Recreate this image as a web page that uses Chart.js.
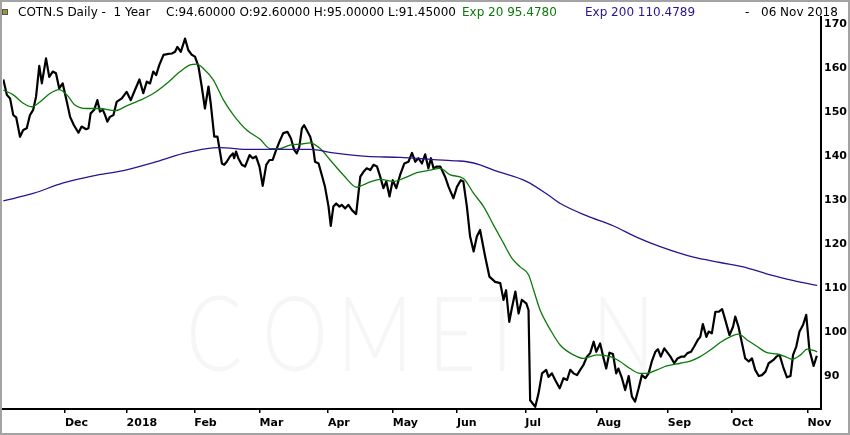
<!DOCTYPE html>
<html>
<head>
<meta charset="utf-8">
<script src="https://cdn.jsdelivr.net/npm/chart.js@4.4.1/dist/chart.umd.min.js"></script>
<style>
  html, body { margin: 0; padding: 0; background: #fff; }
  #wrap { position: relative; width: 850px; height: 435px; overflow: hidden; background: #fff; }
  #wrap canvas { position: absolute; left: 0; top: 0; }
  .hdr { position: absolute; top: 5px; font-family: 'DejaVu Sans', sans-serif; font-size: 12px; line-height: 14px; white-space: pre; color: #000; }
  .wm { position: absolute; top: 268px; font-family: Lato, 'Open Sans', sans-serif; font-weight: 300; font-size: 104px; color: #f6f6f6; transform: scaleX(0.8); transform-origin: left top; }
  #icon { position: absolute; left: 2px; top: 9px; width: 4px; height: 4px; background: #9a9a30; border: 1px solid #555; }
</style>
</head>
<body>
<div id="wrap">
  <div class="wm" style="left:186px">C</div>
  <div class="wm" style="left:262px">O</div>
  <div class="wm" style="left:337px">M</div>
  <div class="wm" style="left:428px">E</div>
  <div class="wm" style="left:478px">T</div>
  <div class="wm" style="left:592px">N</div>
  <canvas id="priceChart" width="850" height="435"></canvas>
  <div id="icon"></div>
  <div class="hdr" style="left:18px">COTN.S Daily -  1 Year</div>
  <div class="hdr" style="left:166px">C:94.60000 O:92.60000 H:95.00000 L:91.45000</div>
  <div class="hdr" style="left:462px;color:#0b7a0b">Exp 20 95.4780</div>
  <div class="hdr" style="left:585px;color:#2c138f">Exp 200 110.4789</div>
  <div class="hdr" style="left:745px">-</div>
  <div class="hdr" style="left:761px">06 Nov 2018</div>
</div>
<script>
// sessions (trading-day index) and closing prices
const closeSess = [0.1, 1.2, 2.2, 3.2, 4.1, 5.3, 6.3, 7.4, 8.4, 9.4, 10.3, 11.3, 12.1, 13.4, 14.4, 15.5, 16.5, 17.5, 18.6, 19.9,
  20.9, 22.1, 23.5, 24.5, 25.9, 26.6, 27.3, 28.4, 29.4, 30.2, 31.1, 31.8, 32.5, 33.3, 34.4, 35.4, 37.0, 38.5, 39.8, 41.1,
  42.5, 43.7, 44.8, 45.8, 46.8, 47.7, 48.7, 50.0, 51.5, 52.6, 53.6, 54.3, 55.4, 56.7, 57.7, 58.8, 59.8, 60.9, 61.9, 62.9,
  64.0, 64.7, 65.8, 66.8, 68.2, 68.9, 69.7, 70.7, 71.6, 72.0, 72.6, 73.3, 74.4, 75.4, 76.8, 77.8, 78.8, 79.9, 80.9, 82.0,
  83.0, 84.0, 85.1, 86.3, 87.3, 88.6, 89.7, 90.7, 91.5, 92.3, 93.1, 93.8, 94.6, 95.7, 96.7, 97.2, 98.3, 99.3, 100.3, 101.4,
  102.1, 102.9, 103.8, 104.8, 105.5, 106.6, 107.6, 108.7, 110.0, 111.3, 112.3, 113.3, 114.4, 115.4, 116.5, 117.5, 118.5, 119.4, 120.4, 121.4,
  122.5, 123.7, 125.0, 126.3, 127.4, 128.4, 129.4, 130.5, 131.5, 132.5, 133.3, 134.1, 135.1, 136.2, 137.7, 138.8, 140.3, 141.4, 142.6, 143.4,
  144.5, 145.5, 146.6, 147.6, 148.6, 150.2, 151.5, 153.3, 154.9, 155.9, 156.7, 157.7, 158.5, 159.6, 160.6, 161.6, 163.0, 163.7, 164.2, 165.8,
  166.8, 167.9, 169.2, 169.9, 171.0, 172.0, 173.4, 174.6, 175.7, 176.7, 177.7, 178.8, 179.8, 180.8, 181.9, 182.9, 184.0, 184.8, 186.0, 187.1,
  187.9, 188.9, 190.0, 191.0, 191.7, 192.8, 193.8, 194.9, 195.9, 196.9, 198.0, 199.0, 200.1, 201.1, 202.1, 203.2, 204.0, 204.9, 206.0, 206.8,
  207.9, 209.1, 210.1, 211.2, 212.2, 213.2, 214.3, 215.3, 216.4, 217.2, 218.0, 219.1, 219.8, 220.8, 221.9, 222.9, 224.0, 225.0, 226.3, 227.4,
  228.1, 229.1, 230.2, 231.2, 232.3, 233.3, 234.3, 235.4, 236.4, 237.5, 238.5, 239.9, 240.9, 241.9, 243.0, 244.2, 245.3, 246.1, 247.1, 248.1,
  249.2, 250.2, 251.2, 252.5, 253.5];
const closeVals = [157.4, 153.9, 153.1, 149.3, 148.8, 144.4, 145.9, 146.3, 149.3, 150.5, 153.5, 160.5, 156.5, 162.2, 158.0, 159.2, 158.8, 155.4, 156.5, 152.3,
  148.9, 147.0, 145.3, 146.7, 146.1, 146.3, 149.7, 150.5, 152.7, 150.1, 150.5, 149.3, 147.8, 148.9, 149.3, 152.3, 153.1, 154.6, 152.7, 155.0,
  157.4, 154.3, 156.9, 156.5, 159.2, 158.4, 160.7, 163.0, 163.2, 163.3, 163.7, 164.8, 163.7, 166.7, 164.1, 163.0, 162.6, 160.3, 155.8, 150.8,
  155.8, 152.0, 144.4, 144.4, 138.3, 138.0, 138.7, 139.9, 140.6, 139.5, 141.0, 139.5, 138.0, 137.6, 140.2, 139.5, 139.9, 137.6, 133.2, 138.0,
  139.1, 139.1, 141.4, 143.6, 145.2, 145.5, 144.0, 141.4, 140.6, 142.1, 146.3, 147.0, 145.9, 144.4, 141.4, 138.7, 138.3, 135.7, 133.0, 128.5,
  124.1, 128.5, 129.2, 128.5, 128.9, 128.1, 128.9, 127.7, 126.8, 135.3, 136.4, 137.2, 136.8, 138.0, 137.6, 135.3, 132.7, 134.2, 130.8, 134.5,
  132.7, 135.7, 138.3, 138.7, 140.7, 138.7, 139.5, 138.3, 140.4, 137.2, 139.5, 137.2, 137.6, 137.6, 135.3, 133.0, 130.4, 133.0, 134.5, 134.2,
  128.5, 121.7, 118.3, 121.7, 123.2, 117.1, 112.6, 111.4, 111.1, 107.3, 109.5, 102.3, 105.4, 109.2, 104.2, 107.3, 106.5, 105.0, 84.5, 83.0,
  86.0, 90.6, 91.4, 89.8, 90.6, 89.1, 87.2, 89.5, 89.1, 91.4, 90.6, 90.2, 91.4, 92.5, 94.4, 95.2, 97.8, 95.5, 97.4, 94.0,
  91.7, 95.3, 95.0, 90.6, 91.7, 89.5, 86.8, 90.0, 85.3, 84.2, 87.2, 90.2, 89.5, 90.6, 93.3, 95.5, 96.1, 94.4, 96.3, 95.5,
  94.4, 92.9, 94.0, 94.4, 94.4, 95.2, 95.5, 96.7, 98.2, 98.9, 101.8, 98.9, 100.1, 99.7, 104.6, 104.6, 105.2, 102.7, 99.3, 101.2,
  103.5, 101.2, 97.4, 94.0, 93.3, 94.0, 91.4, 90.0, 90.2, 91.0, 92.9, 93.6, 94.4, 94.8, 92.1, 89.7, 90.0, 94.8, 96.7, 100.1,
  101.6, 103.9, 95.9, 92.3, 94.6];

// 20-period exponential average
const ema20Sess = [0.1, 3.2, 6.3, 8.9, 11.5, 14.6, 17.5, 19.9, 22.4, 26.1, 30.2, 34.9, 38.5, 42.7, 46.8, 51.0, 55.2, 58.3, 60.4, 62.4,
  65.5, 67.4, 68.7, 71.8, 75.9, 80.1, 83.2, 86.3, 89.4, 92.6, 95.7, 98.8, 101.9, 106.0, 110.2, 113.3, 117.5, 121.6, 124.7, 128.9,
  133.1, 136.2, 139.3, 143.4, 146.6, 149.7, 152.8, 155.9, 158.5, 161.1, 163.7, 165.3, 167.3, 170.5, 173.6, 177.7, 180.8, 185.0, 189.2, 192.2,
  195.3, 198.4, 200.6, 203.7, 206.8, 211.0, 214.1, 217.2, 220.3, 223.4, 226.5, 229.1, 231.8, 234.9, 238.0, 241.1, 243.7, 245.8, 248.4, 250.5,
  252.5, 253.6];
const ema20Vals = [155.0, 153.9, 152.0, 151.2, 152.3, 154.2, 155.1, 153.9, 151.6, 150.8, 150.8, 150.3, 151.4, 152.7, 154.2, 156.5, 159.2, 160.7, 160.9, 159.9,
  157.3, 154.6, 152.7, 149.3, 145.9, 143.8, 141.7, 141.7, 142.5, 142.7, 143.0, 141.7, 139.1, 135.7, 132.9, 133.8, 134.7, 134.2, 134.9, 136.2,
  136.8, 137.2, 135.7, 134.9, 131.5, 128.5, 124.3, 120.2, 116.8, 114.8, 113.0, 109.5, 105.0, 100.5, 97.0, 94.8, 94.0, 94.8, 94.4, 93.3,
  91.7, 90.6, 90.6, 91.4, 92.3, 92.9, 93.4, 94.4, 95.9, 97.6, 98.9, 99.5, 98.2, 96.7, 95.3, 95.0, 94.4, 93.8, 94.8, 96.1,
  95.8, 95.5];

// 200-period exponential average
const ema200Sess = [0.1, 9.4, 18.8, 28.1, 37.5, 46.8, 56.2, 63.5, 67.4, 77.0, 95.7, 102.9, 113.3, 123.7, 134.1, 141.4, 144.5, 148.6, 152.8, 163.2,
  170.5, 173.6, 181.9, 190.2, 197.5, 204.7, 215.1, 223.4, 231.7, 239.0, 246.3, 253.6];
const ema200Vals = [129.8, 131.5, 133.9, 135.5, 136.7, 138.5, 140.6, 141.7, 141.9, 141.5, 141.5, 140.7, 139.9, 139.7, 139.2, 138.9, 138.7, 138.0, 136.8, 134.2,
  130.8, 129.2, 126.4, 124.1, 121.5, 119.4, 117.0, 115.8, 114.6, 113.0, 111.7, 110.6];

// axis ticks
const monthTickSess = [19.3, 38.5, 59.6, 79.9, 101.2, 121.4, 141.4, 162.7, 185.0, 207.1, 227.1, 250.6];
const monthLabels = ['Dec', '2018', 'Feb', 'Mar', 'Apr', 'May', 'Jun', 'Jul', 'Aug', 'Sep', 'Oct', 'Nov'];
const priceTicks = [90, 100, 110, 120, 130, 140, 150, 160, 170];

function toPoints(xs, ys) {
    return xs.map((x, i) => ({ x: x, y: ys[i] }));
}

// рамка вокруг картинки
const framePlugin = {
    id: 'frame',
    afterDraw(chart) {
        const c = chart.ctx;
        c.save();
        c.strokeStyle = '#a3a3a3';
        c.lineWidth = 2;
        c.strokeRect(1, 1, chart.width - 2, chart.height - 2);
        c.restore();
    }
};

const tickFont = { family: 'DejaVu Sans', size: 11, weight: 'bold' };

const ctx = document.getElementById('priceChart').getContext('2d');
new Chart(ctx, {
    type: 'line',
    data: {
        datasets: [
            {
                label: 'Exp 200',
                data: toPoints(ema200Sess, ema200Vals),
                borderColor: '#2c138f',
                borderWidth: 1.3,
                pointRadius: 0,
                tension: 0.3,
                cubicInterpolationMode: 'monotone'
            },
            {
                label: 'Exp 20',
                data: toPoints(ema20Sess, ema20Vals),
                borderColor: '#0b7a0b',
                borderWidth: 1.3,
                pointRadius: 0,
                tension: 0.3,
                cubicInterpolationMode: 'monotone'
            },
            {
                label: 'COTN.S',
                data: toPoints(closeSess, closeVals),
                borderColor: '#000',
                borderWidth: 2.2,
                pointRadius: 0,
                tension: 0,
                borderJoinStyle: 'round'
            }
        ]
    },
    options: {
        responsive: false,
        animation: false,
        devicePixelRatio: 1,
        layout: { padding: { top: 17, left: 3, right: 0, bottom: 0 } },
        plugins: {
            legend: { display: false },
            tooltip: { enabled: false }
        },
        scales: {
            x: {
                type: 'linear',
                position: 'bottom',
                min: 0,
                max: 254.8,
                grid: { drawOnChartArea: false, drawTicks: true, tickLength: 4, color: '#000', lineWidth: 1.5 },
                border: { display: true, color: '#000', width: 2 },
                afterBuildTicks: (scale) => {
                    scale.ticks = monthTickSess.map(v => ({ value: v }));
                },
                afterFit: (scale) => { scale.height = 26; },
                ticks: {
                    autoSkip: false,
                    maxRotation: 0,
                    align: 'start',
                    padding: 4,
                    color: '#000',
                    font: tickFont,
                    callback: (value, index) => monthLabels[index]
                }
            },
            y: {
                position: 'right',
                min: 82.5,
                max: 171.6,
                grid: { display: false, drawTicks: false },
                border: { display: true, color: '#000', width: 2 },
                afterBuildTicks: (scale) => {
                    scale.ticks = priceTicks.map(v => ({ value: v }));
                },
                afterFit: (scale) => { scale.width = 29; },
                ticks: {
                    padding: 3,
                    color: '#000',
                    font: tickFont,
                    callback: (value) => String(value)
                }
            }
        }
    },
    plugins: [framePlugin]
});
</script>
</body>
</html>
